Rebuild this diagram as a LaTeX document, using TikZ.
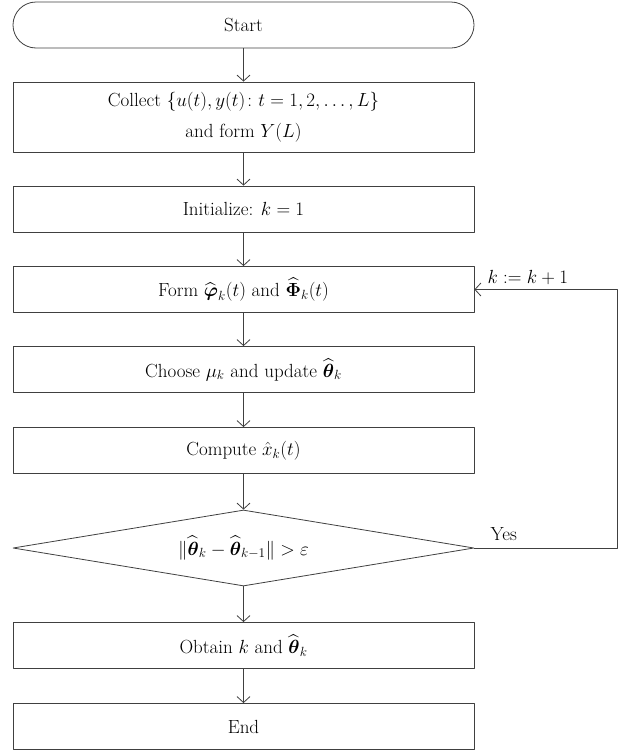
\RequirePackage{fix-cm}
\documentclass[tikz,border=0pt]{standalone}
\usepackage{amsmath,amssymb}
\usetikzlibrary{shapes.geometric,arrows.meta}

\begin{document}
\begin{tikzpicture}[x=1pt, y=-1pt,
                    line cap=round, line join=round,
                    box/.style={draw=black!75, line width=0.8pt, minimum width=461pt,
                                minimum height=46pt, inner sep=0pt, align=center},
                    terminal/.style={box, rounded corners=23pt},
                    decision/.style={draw=black!75, line width=0.8pt, diamond, aspect=6,
                                     minimum width=461pt, minimum height=76pt, inner sep=0pt},
                    flow/.style={draw=black!75, line width=0.8pt,
                                 -{Straight Barb[length=6pt,width=13pt]}}]
  \fontsize{19}{31}\selectfont
  \useasboundingbox (0,0) rectangle (620,750);
  \def\xc{243.5}

  % main column
  \node[terminal] (start) at (\xc,25) {Start};
  \node[box, minimum height=70pt] (collect) at (\xc,117)
    {Collect $\{u(t), y(t)\colon t = 1, 2, \ldots, L\}$\\ and form $Y(L)$};
  \node[box] (init) at (\xc,209) {Initialize: $k = 1$};
  \node[box] (form) at (\xc,289.5)
    {Form $\widehat{\boldsymbol{\varphi}}_k(t)$ and $\widehat{\boldsymbol{\Phi}}_k(t)$};
  \node[box] (choose) at (\xc,369.5)
    {Choose $\mu_k$ and update $\widehat{\boldsymbol{\theta}}_k$};
  \node[box] (compute) at (\xc,450.5) {Compute $\hat{x}_k(t)$};
  \node[decision] (test) at (\xc,548)
    {$\|\widehat{\boldsymbol{\theta}}_k - \widehat{\boldsymbol{\theta}}_{k-1}\| > \varepsilon$};
  \node[box] (obtain) at (\xc,645.5)
    {Obtain $k$ and $\widehat{\boldsymbol{\theta}}_k$};
  \node[box] (finish) at (\xc,726.5) {End};

  % arrows down
  \foreach \a/\b in {start/collect, collect/init, init/form, form/choose,
                     choose/compute, compute/test, test/obtain, obtain/finish}{
    \draw[flow] (\a) -- (\b);
  }

  % loop back
  \coordinate (loopc) at (617,548);
  \draw[flow] (test.east) -- (loopc) |- (form.east);
  \node[anchor=south west, inner sep=0pt] (incr) at ([xshift=13pt,yshift=5pt]form.east)
    {$k := k + 1$};
  \node[anchor=south west, inner sep=0pt] (yes) at ([xshift=16pt,yshift=7pt]test.east) {Yes};

\end{tikzpicture}
\end{document}
